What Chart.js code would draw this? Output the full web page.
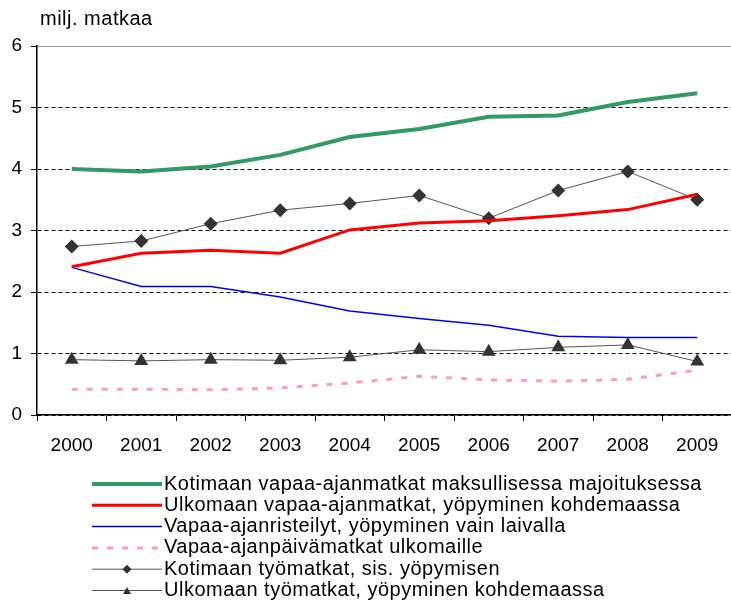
<!DOCTYPE html>
<html lang="fi">
<head>
<meta charset="utf-8">
<title>Matkat 2000-2009</title>
<style>
  * { margin: 0; padding: 0; }
  body { background: #fff; overflow: hidden; }
  .chartBox { width: 740px; height: 600px; }
</style>
</head>
<body>
<div class="chartBox"><canvas id="tripChart"></canvas></div>
<script src="https://cdn.jsdelivr.net/npm/chart.js/dist/chart.umd.min.js"></script>
<script>
// values in millions of trips
const years = ['2000', '2001', '2002', '2003', '2004', '2005', '2006', '2007', '2008', '2009'];
const seriesNames = [
  'Kotimaan vapaa-ajanmatkat maksullisessa majoituksessa',
  'Ulkomaan vapaa-ajanmatkat, yöpyminen kohdemaassa',
  'Vapaa-ajanristeilyt, yöpyminen vain laivalla',
  'Vapaa-ajanpäivämatkat ulkomaille',
  'Kotimaan työmatkat, sis. yöpymisen',
  'Ulkomaan työmatkat, yöpyminen kohdemaassa'
];
const kotimaanVapaa = [4.0, 3.96, 4.04, 4.23, 4.52, 4.65, 4.85, 4.87, 5.09, 5.23];
const ulkomaanVapaa = [2.41, 2.63, 2.68, 2.63, 3.01, 3.12, 3.16, 3.24, 3.34, 3.59];
const risteilyt = [2.4, 2.09, 2.09, 1.92, 1.69, 1.57, 1.46, 1.28, 1.26, 1.26];
const paivamatkat = [0.42, 0.42, 0.41, 0.44, 0.52, 0.63, 0.57, 0.55, 0.58, 0.73];
const kotimaanTyo = [2.74, 2.83, 3.11, 3.33, 3.44, 3.57, 3.20, 3.65, 3.96, 3.50];
const ulkomaanTyo = [0.90, 0.88, 0.90, 0.89, 0.94, 1.06, 1.03, 1.10, 1.14, 0.87];
const yTitle = 'milj. matkaa';

const FONT = '"Liberation Sans", Arial, sans-serif';

// title above the axis and the legend under the chart
const textPlugin = {
  id: 'textPlugin',
  afterDraw(chart) {
    const ctx = chart.ctx;
    ctx.save();
    ctx.fillStyle = '#000';
    ctx.font = '20px ' + FONT;
    ctx.letterSpacing = '0.5px';
    ctx.textBaseline = 'middle';
    ctx.fillText(yTitle, 40, 19);

    chart.data.datasets.forEach((ds, i) => {
      const y = 484 + i * 21.3;
      ctx.strokeStyle = ds.borderColor;
      ctx.lineWidth = ds.borderWidth;
      ctx.setLineDash(ds.borderDash || []);
      ctx.beginPath();
      ctx.moveTo(92, y);
      ctx.lineTo(162, y);
      ctx.stroke();
      ctx.setLineDash([]);
      if (ds.pointStyle) {
        ctx.fillStyle = ds.pointBackgroundColor;
        ctx.beginPath();
        if (ds.pointStyle === 'rectRot') {
          ctx.moveTo(122.5, y); ctx.lineTo(127, y - 4.5); ctx.lineTo(131.5, y); ctx.lineTo(127, y + 4.5);
        } else {
          ctx.moveTo(123, y + 3.5); ctx.lineTo(127, y - 3.5); ctx.lineTo(131, y + 3.5);
        }
        ctx.closePath();
        ctx.fill();
      }
      ctx.fillStyle = '#000';
      ctx.fillText(ds.label, 164, y);
    });
    ctx.restore();
  }
};

const gridDash = ctx => (ctx.tick && ctx.tick.value === 6) ? [] : [4, 3];

new Chart(document.getElementById('tripChart'), {
  type: 'line',
  data: {
    labels: years,
    datasets: [
      { label: seriesNames[0], data: kotimaanVapaa, borderColor: '#339966', borderWidth: 4, pointRadius: 0 },
      { label: seriesNames[1], data: ulkomaanVapaa, borderColor: '#ff0000', borderWidth: 3, pointRadius: 0 },
      { label: seriesNames[2], data: risteilyt, borderColor: '#0000ff', borderWidth: 1.5, pointRadius: 0 },
      { label: seriesNames[3], data: paivamatkat, borderColor: '#ff99cc', borderWidth: 3, borderDash: [6, 9], pointRadius: 0 },
      { label: seriesNames[4], data: kotimaanTyo, borderColor: '#555555', borderWidth: 1, pointStyle: 'rectRot',
        pointRadius: 7, pointBackgroundColor: '#333333', pointBorderColor: '#333333', pointBorderWidth: 0 },
      { label: seriesNames[5], data: ulkomaanTyo, borderColor: '#555555', borderWidth: 1, pointStyle: 'triangle',
        pointRadius: 8, pointBackgroundColor: '#333333', pointBorderColor: '#333333', pointBorderWidth: 0 }
    ]
  },
  options: {
    responsive: true,
    maintainAspectRatio: false,
    animation: false,
    layout: { padding: { top: 46, right: 3, bottom: 140, left: 0 } },
    plugins: {
      legend: { display: false },
      tooltip: { enabled: false }
    },
    scales: {
      x: {
        offset: true,
        grid: { offset: true, drawOnChartArea: false, drawTicks: true, tickLength: 6, color: '#000' },
        border: { color: '#000', width: 1.5 },
        ticks: { color: '#000', font: { family: FONT, size: 19 }, padding: 13, maxRotation: 0 },
        afterFit: s => { s.height = 45; }
      },
      y: {
        min: 0,
        max: 6,
        ticks: { stepSize: 1, color: '#000', font: { family: FONT, size: 19 }, padding: 9 },
        grid: {
          color: ctx => ctx.tick && ctx.tick.value === 6 ? '#999' : '#000',
          tickColor: '#000',
          tickLength: 6,
          lineWidth: 1
        },
        border: { color: '#000', width: 1.5, dash: gridDash },
        afterFit: s => { s.width = 37; }
      }
    }
  },
  plugins: [textPlugin]
});
</script>
</body>
</html>
